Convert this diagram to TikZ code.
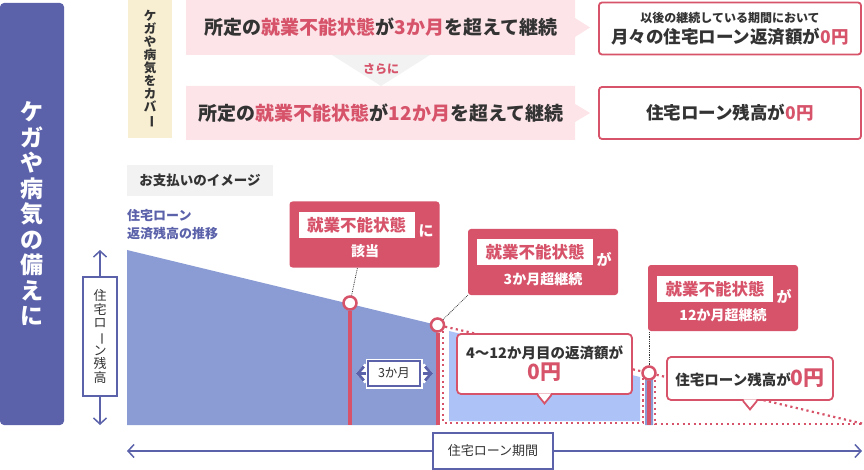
\documentclass[tikz,border=0pt]{standalone}
\usepackage{fontspec}
\setmainfont{Noto Sans CJK JP}
\usepackage{xcolor}
\definecolor{sonaePurple}{HTML}{5B62AA}
\definecolor{sonaeRed}{HTML}{D6536A}
\definecolor{sonaePink}{HTML}{FCE4E8}
\definecolor{sonaeBeige}{HTML}{F8EFD2}
\definecolor{sonaeGray}{HTML}{F2F2F2}
\definecolor{sonaeText}{HTML}{333333}
\definecolor{areaDark}{HTML}{8B9CD4}
\definecolor{areaLight}{HTML}{ADC2F6}
\usepackage{graphicx}
\usepackage{tikz}
\usetikzlibrary{arrows.meta,positioning,calc}
\newcommand{\tatebar}{\rotatebox[origin=c]{-90}{ー}}
\tikzset{
    sidebar/.style={
        fill=sonaePurple,
        rounded corners=4pt,
        minimum width=64,
        minimum height=422,
        inner sep=0,
        align=center,
        text=white,
        font=\bfseries\fontsize{23}{25.5}\selectfont
    },
    coverbox/.style={
        fill=sonaeBeige,
        minimum width=44,
        minimum height=138,
        inner sep=0,
        align=center,
        text=sonaeText,
        font=\bfseries\fontsize{12.5}{13.1}\selectfont
    },
    condarrow/.style={
        fill=sonaePink
    },
    condition/.style={
        text=sonaeText,
        inner sep=0,
        font=\bfseries\fontsize{19}{22}\selectfont
    },
    result/.style={
        draw=sonaeRed,
        line width=1.8pt,
        fill=white,
        rounded corners=3pt,
        minimum width=262,
        minimum height=52,
        inner sep=0,
        align=center,
        text=sonaeText,
        font=\bfseries\fontsize{17.5}{21}\selectfont
    },
    further/.style={
        text=sonaeRed,
        inner sep=0,
        font=\bfseries\fontsize{12}{14}\selectfont
    },
    imagetag/.style={
        fill=sonaeGray,
        minimum width=146,
        minimum height=31,
        inner sep=0,
        text=sonaeText,
        font=\bfseries\fontsize{13.5}{16}\selectfont
    },
    legend/.style={
        text=sonaePurple,
        align=left,
        inner sep=0,
        font=\bfseries\fontsize{13}{18}\selectfont
    },
    axisbox/.style={
        draw=sonaePurple,
        line width=1.5pt,
        fill=white,
        inner sep=0,
        align=center,
        text=sonaeText,
        font=\fontsize{13}{13.7}\selectfont
    },
    axis/.style={
        draw=sonaePurple,
        line width=1.5pt,
        -{Straight Barb[length=6pt,width=13pt]}
    },
    marker/.style={
        circle,
        draw=sonaeRed,
        line width=2.5pt,
        fill=white,
        minimum size=13,
        inner sep=0
    },
    bar/.style={
        draw=sonaeRed,
        line width=4pt
    },
    dots/.style={
        draw=sonaeRed,
        line width=2.2pt,
        dash pattern=on 2.2pt off 3.3pt
    },
    leader/.style={
        draw=sonaeText,
        line width=0.8pt,
        densely dotted
    },
    callout/.style={
        fill=sonaeRed,
        rounded corners=3pt,
        minimum width=150,
        minimum height=66,
        inner sep=0
    },
    calloutkey/.style={
        fill=white,
        minimum width=116,
        minimum height=26,
        inner sep=0,
        text=sonaeRed,
        font=\bfseries\fontsize{16.5}{18}\selectfont
    },
    calloutnote/.style={
        text=white,
        inner sep=0,
        font=\bfseries\fontsize{14}{16}\selectfont
    },
    bubble/.style={
        draw=sonaeRed,
        line width=1.8pt,
        fill=white,
        rounded corners=4pt,
        inner sep=0,
        align=center,
        text=sonaeText,
        font=\bfseries\fontsize{14.5}{20}\selectfont
    },
    bubbletip/.style={
        draw=sonaeRed,
        line width=1.8pt
    },
    spanbox/.style={
        draw=sonaePurple,
        line width=2pt,
        fill=white,
        minimum width=52,
        minimum height=25,
        inner sep=0,
        text=sonaeText,
        font=\fontsize{12.5}{14}\selectfont,
        preaction={draw=white, line width=5pt}
    },
    spanhalo/.style={
        draw=white,
        line width=6pt,
        {Straight Barb[length=7pt,width=16pt]}-{Straight Barb[length=7pt,width=16pt]}
    },
    spanarrow/.style={
        draw=sonaePurple,
        line width=2.8pt,
        {Straight Barb[length=6pt,width=14pt]}-{Straight Barb[length=6pt,width=14pt]}
    }
}
\begin{document}
\begin{tikzpicture}[x=1pt,y=-1pt]
    \useasboundingbox (0,0) rectangle (864,470);

    % Title band and cover label
    \node[sidebar] (title) at (32,214) {ケ\\ガ\\や\\病\\気\\の\\備\\え\\に};
    \node[coverbox] (cover) at (150,69) {ケ\\ガ\\や\\病\\気\\を\\カ\\バ\\\tatebar};

    % Conditions
    \fill[condarrow] (186,0) -- (575,0) -- (575,18) -- (590,27.5) -- (575,37) -- (575,55) -- (186,55) -- cycle;
    \fill[condarrow] (186,86) -- (575,86) -- (575,104) -- (590,113) -- (575,122) -- (575,140) -- (186,140) -- cycle;
    \fill[sonaeGray] (332,55) -- (430,55) -- (381,86) -- cycle;
    \node[condition] (cond3) at (381,27.5) {所定の\textcolor{sonaeRed}{就業不能状態}が\textcolor{sonaeRed}{3か月}を超えて継続};
    \node[further] (more) at (381,69) {さらに};
    \node[condition] (cond12) at (381,113) {所定の\textcolor{sonaeRed}{就業不能状態}が\textcolor{sonaeRed}{12か月}を超えて継続};

    % Results
    \node[result] (res3) at (730,28.5) {{\fontsize{12}{16}\selectfont 以後の継続している期間において}\\月々の住宅ローン返済額が\textcolor{sonaeRed}{0円}};
    \node[result] (res12) at (730,113) {住宅ローン残高が\textcolor{sonaeRed}{0円}};

    % Payment image
    \node[imagetag] (image) at (200,180.5) {お支払いのイメージ};
    \node[legend, anchor=north west] (trend) at (127,209) {住宅ローン\\返済残高の推移};

    % Axes
    \coordinate (balTop) at (100,250);
    \coordinate (balBot) at (100,425);
    \coordinate (perStart) at (127,451);
    \coordinate (perEnd) at (862,451);
    \node[axisbox, minimum width=34, minimum height=119] (balance) at (100,336.5) {住\\宅\\ロ\\\tatebar\\ン\\残\\高};
    \draw[axis] (balance) -- (balTop);
    \draw[axis] (balance) -- (balBot);
    \node[axisbox, minimum width=120, minimum height=36] (period) at (493,451) {住宅ローン期間};
    \draw[axis] (period) -- (perStart);
    \draw[axis] (period) -- (perEnd);

    % Balance areas
    \fill[areaDark] (127,250) -- (437,325) -- (437,425) -- (127,425) -- cycle;
    \fill[areaLight] (449,331) -- (640,377) -- (640,421) -- (449,421) -- cycle;
    \fill[areaDark] (645,375) -- (653,377) -- (653,425) -- (645,425) -- cycle;

    % Markers
    \node[marker] (c1) at (350,303) {};
    \node[marker] (c2) at (437.5,325) {};
    \node[marker] (c3) at (649,373) {};
    \coordinate (endRight) at (864,424);

    \draw[dots] (c2) -- (c3);
    \draw[dots] (c3) -- (endRight);
    \draw[dots] (443,331) -- (443,423) -- (643,423) -- (643,378);
    \draw[dots] (655,380) -- (655,424) -- (864,424);

    \draw[bar] (c1.south) -- (c1.south |- balBot);
    \draw[bar] (c2.south) -- (c2.south |- balBot);
    \draw[bar] (c3.south) -- (c3.south |- balBot);

    % Callouts
    \node[callout] (hit) at (364.5,234.5) {};
    \node[calloutkey] (hitkey) at (356.5,225) {就業不能状態};
    \node[calloutnote, font=\bfseries\fontsize{15}{16}\selectfont] (hitni) at (426,231) {に};
    \node[calloutnote] (hitnote) at (365,251) {該当};

    \node[callout] (conf3) at (543,262) {};
    \node[calloutkey] (conf3key) at (535,252) {就業不能状態};
    \node[calloutnote, font=\bfseries\fontsize{15}{16}\selectfont] (conf3ga) at (604,259) {が};
    \node[calloutnote] (conf3note) at (543,279) {3か月超継続};

    \node[callout] (conf12) at (723,298) {};
    \node[calloutkey] (conf12key) at (715,289) {就業不能状態};
    \node[calloutnote, font=\bfseries\fontsize{15}{16}\selectfont] (conf12ga) at (784,296) {が};
    \node[calloutnote] (conf12note) at (723,315) {12か月超継続};

    \draw[leader] (c1) -- (hit);
    \draw[leader] (c2) -- (conf3.south west);
    \draw[leader] (c3) -- (c3 |- conf12.south);

    % Speech bubbles
    \node[bubble, minimum width=175, minimum height=60] (repay) at (544.5,364) {4〜12か月目の返済額が\\[1pt]{\fontsize{21}{24}\selectfont\textcolor{sonaeRed}{0円}}};
    \fill[white] ($(repay.south)+(-6.5,-1.5)$) -- ++(6.5,10) -- ++(6.5,-10) -- cycle;
    \draw[bubbletip] ($(repay.south)+(-7,0)$) -- ++(7,8.5) -- ++(7,-8.5);

    \node[bubble, minimum width=166, minimum height=43] (zero) at (750,378.5) {住宅ローン残高が\textcolor{sonaeRed}{\fontsize{21}{24}\selectfont 0円}};
    \fill[white] ($(zero.south)+(-6.5,-1.5)$) -- ++(6.5,10) -- ++(6.5,-10) -- cycle;
    \draw[bubbletip] ($(zero.south)+(-7,0)$) -- ++(7,8.5) -- ++(7,-8.5);

    % Three months span
    \coordinate (spanL) at (356,373.5);
    \coordinate (spanR) at (433,373.5);
    \draw[spanhalo] (spanL) -- (spanR);
    \draw[spanarrow] (spanL) -- (spanR);
    \node[spanbox] (span3) at (394,373.5) {3か月};
\end{tikzpicture}
\end{document}
